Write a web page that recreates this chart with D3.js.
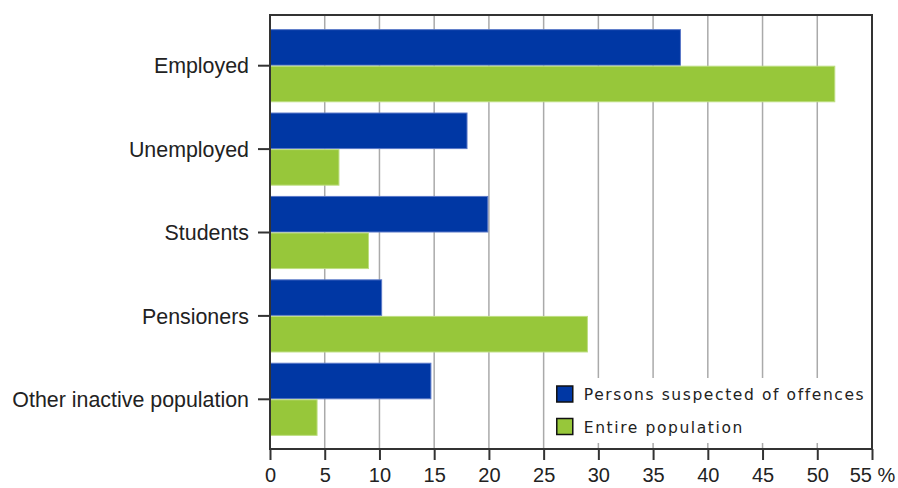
<!DOCTYPE html>
<html>
<head>
<meta charset="utf-8">
<script src="https://cdn.jsdelivr.net/npm/d3@7"></script>
<style>
  body { margin: 0; background: #fff; }
  svg text { font-family: "Liberation Sans", Arial, sans-serif; fill: #222; }
  .legend text { font-family: "DejaVu Sans", Verdana, sans-serif; }
</style>
</head>
<body>
<svg id="chart" width="898" height="488"></svg>
<script>
var categories = ["Employed", "Unemployed", "Students", "Pensioners", "Other inactive population"];
var seriesNames = ["Persons suspected of offences", "Entire population"];
var suspected = [37.5, 18.0, 19.9, 10.2, 14.7];
var population = [51.6, 6.3, 9.0, 29.0, 4.3];
var xTicks = [0, 5, 10, 15, 20, 25, 30, 35, 40, 45, 50, 55];
var colors = ["#0037a4", "#97c73a"];
var strokes = ["#5a78c8", "#bede82"];

var svg = d3.select("svg#chart"),
    margin = {top: 15, right: 26, bottom: 39, left: 270},
    width = +svg.attr("width") - margin.left - margin.right,
    height = +svg.attr("height") - margin.top - margin.bottom;

var g = svg.append("g")
  .attr("transform", "translate(" + margin.left + "," + margin.top + ")");

var x = d3.scaleLinear().domain([0, 55]).range([0, width]);

var y = d3.scaleBand()
  .domain(categories)
  .range([9, height - 8])
  .paddingInner(0.123)
  .paddingOuter(0.0615);

var ySub = d3.scaleBand().domain([0, 1]).range([0, y.bandwidth()]);

// grid
g.append("g")
  .selectAll("line")
  .data(xTicks.slice(1, -1))
  .enter().append("line")
  .attr("x1", function(d) { return x(d); })
  .attr("x2", function(d) { return x(d); })
  .attr("y1", 0)
  .attr("y2", height)
  .attr("stroke", "#aaa")
  .attr("stroke-width", 1.5);

// bars
var rows = categories.map(function(c, i) {
  return {cat: c, vals: [suspected[i], population[i]]};
});

var grp = g.selectAll("g.row")
  .data(rows)
  .enter().append("g")
  .attr("class", "row")
  .attr("transform", function(d) { return "translate(0," + y(d.cat) + ")"; });

grp.selectAll("rect")
  .data(function(d) { return d.vals; })
  .enter().append("rect")
  .attr("x", 0.5)
  .attr("y", function(d, i) { return ySub(i) + 0.5; })
  .attr("width", function(d) { return x(d) - 0.5; })
  .attr("height", ySub.bandwidth() - 1)
  .attr("fill", function(d, i) { return colors[i]; })
  .attr("stroke", function(d, i) { return strokes[i]; })
  .attr("stroke-width", 1);

// legend
var legend = g.append("g").attr("class", "legend");
legend.append("rect")
  .attr("x", x(25.3))
  .attr("y", height - 71)
  .attr("width", width - x(25.3))
  .attr("height", 65)
  .attr("fill", "#fff");

var li = legend.selectAll("g.item")
  .data(seriesNames)
  .enter().append("g")
  .attr("class", "item")
  .attr("transform", function(d, i) { return "translate(" + x(26.2) + "," + (height - 63 + i * 32.5) + ")"; });

li.append("rect")
  .attr("width", 16)
  .attr("height", 16)
  .attr("fill", function(d, i) { return colors[i]; })
  .attr("stroke", "#111")
  .attr("stroke-width", 1.5);

li.append("text")
  .attr("x", 27)
  .attr("y", 14)
  .style("font-size", "15.5px")
  .style("letter-spacing", "1.6px")
  .text(function(d) { return d; });

// frame
g.append("rect")
  .attr("x", 0)
  .attr("y", 0)
  .attr("width", width)
  .attr("height", height)
  .attr("fill", "none")
  .attr("stroke", "#333")
  .attr("stroke-width", 2);

// axes
var xAxis = g.append("g")
  .attr("transform", "translate(0," + height + ")")
  .call(d3.axisBottom(x).tickValues(xTicks).tickSize(11).tickPadding(8)
    .tickFormat(function(d) { return d === 55 ? "55 %" : d; }));
xAxis.select(".domain").remove();
xAxis.selectAll("line").attr("stroke", "#333").attr("stroke-width", 2);
xAxis.selectAll("text").style("font-size", "20px").attr("fill", "#222");

var yAxis = g.append("g")
  .call(d3.axisLeft(y).tickSize(12).tickPadding(9));
yAxis.select(".domain").remove();
yAxis.selectAll("line").attr("stroke", "#333").attr("stroke-width", 2);
yAxis.selectAll("text").style("font-size", "21.4px").attr("fill", "#222").attr("dy", "0.36em");
</script>
</body>
</html>
